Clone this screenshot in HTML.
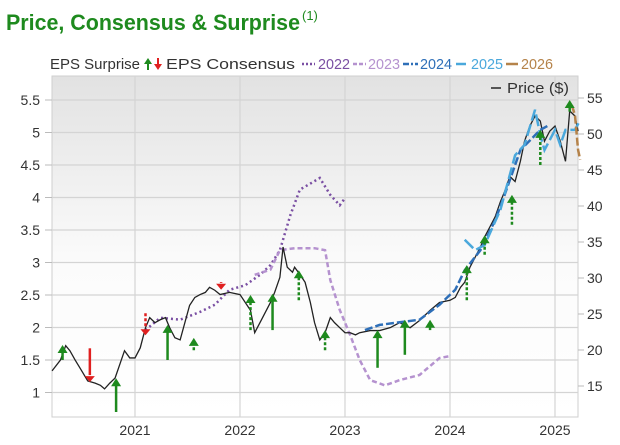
<!DOCTYPE html>
<html><head><meta charset="utf-8"><style>
body{margin:0;background:#fff;font-family:"Liberation Sans",sans-serif;}
#wrap{position:relative;width:620px;height:445px;overflow:hidden;}
</style></head><body>
<div id="wrap">
<svg id="svg" width="620" height="445" xmlns="http://www.w3.org/2000/svg">
<defs><linearGradient id="bg" x1="0" y1="0" x2="0" y2="1"><stop offset="0" stop-color="#e2e2e2"/><stop offset="0.55" stop-color="#fbfbfb"/><stop offset="1" stop-color="#ffffff"/></linearGradient></defs>
<text x="6" y="30" font-size="22" font-weight="bold" fill="#1e8a1e" textLength="294" lengthAdjust="spacingAndGlyphs">Price, Consensus &amp; Surprise</text>
<text x="302" y="20" font-size="13" fill="#1e8a1e">(1)</text>
<g id="legend" font-size="15">
<text x="50" y="69" fill="#333" textLength="90" lengthAdjust="spacingAndGlyphs">EPS Surprise</text>
<g><line x1="148" y1="70" x2="148" y2="63" stroke="#1e8a1e" stroke-width="2"/><polygon points="148,58 144,64 152,64" fill="#1e8a1e"/></g>
<g><line x1="158" y1="58" x2="158" y2="65" stroke="#e02020" stroke-width="2"/><polygon points="158,70 154,64 162,64" fill="#e02020"/></g>
<text x="166" y="69" fill="#333" textLength="129" lengthAdjust="spacingAndGlyphs">EPS Consensus</text>
<line x1="302" y1="64" x2="315" y2="64" stroke="#7a4fa3" stroke-width="2.5" stroke-dasharray="2,2"/>
<text x="318" y="69" fill="#7a4fa3" textLength="32" lengthAdjust="spacingAndGlyphs">2022</text>
<line x1="353" y1="64" x2="366" y2="64" stroke="#b592cf" stroke-width="2.5" stroke-dasharray="4,2"/>
<text x="368" y="69" fill="#b592cf" textLength="32" lengthAdjust="spacingAndGlyphs">2023</text>
<line x1="403" y1="64" x2="418" y2="64" stroke="#2e6fb8" stroke-width="2.5" stroke-dasharray="6,2,2,2"/>
<text x="420" y="69" fill="#2e6fb8" textLength="32" lengthAdjust="spacingAndGlyphs">2024</text>
<line x1="456" y1="64" x2="466" y2="64" stroke="#4aa8dc" stroke-width="2.5"/>
<text x="471" y="69" fill="#4aa8dc" textLength="32" lengthAdjust="spacingAndGlyphs">2025</text>
<line x1="506" y1="64" x2="518" y2="64" stroke="#b5834a" stroke-width="2.5"/>
<text x="521" y="69" fill="#b5834a" textLength="32" lengthAdjust="spacingAndGlyphs">2026</text>
</g>
<rect x="52" y="76" width="526" height="341" fill="url(#bg)" stroke="#cfcfcf"/>
<g id="grid"></g>
<g id="axes" font-size="14" fill="#333"></g>
<line x1="491" y1="88" x2="501" y2="88" stroke="#555" stroke-width="2"/>
<text x="507" y="93" font-size="15" fill="#333" textLength="62" lengthAdjust="spacingAndGlyphs">Price ($)</text>
<g id="series"></g>
</svg>
</div>
<script>
const leftTicks=[1,1.5,2,2.5,3,3.5,4,4.5,5,5.5];
const rightTicks=[15,20,25,30,35,40,45,50,55];
const yearTicks=[2021,2022,2023,2024,2025];
const priceDates=[2020.21,2020.29,2020.34,2020.38,2020.43,2020.48,2020.55,2020.62,2020.67,2020.71,2020.76,2020.81,2020.86,2020.9,2020.95,2021.0,2021.05,2021.1,2021.14,2021.19,2021.24,2021.29,2021.33,2021.38,2021.43,2021.52,2021.57,2021.62,2021.67,2021.71,2021.76,2021.81,2021.9,2022.0,2022.1,2022.14,2022.19,2022.24,2022.29,2022.33,2022.38,2022.41,2022.45,2022.5,2022.52,2022.57,2022.62,2022.67,2022.71,2022.76,2022.81,2022.86,2022.9,2022.95,2023.0,2023.05,2023.1,2023.14,2023.24,2023.33,2023.43,2023.52,2023.62,2023.71,2023.81,2023.9,2024.0,2024.05,2024.1,2024.14,2024.19,2024.24,2024.29,2024.33,2024.38,2024.43,2024.48,2024.52,2024.57,2024.62,2024.67,2024.71,2024.76,2024.81,2024.86,2024.9,2024.95,2025.0,2025.05,2025.1,2025.14,2025.19,2025.22];
const priceValues=[17.1,18.6,20.6,19.9,18.6,17.4,15.7,15.4,15.1,14.6,15.4,16.1,18.2,19.9,18.9,18.9,20.3,23.1,24.5,23.8,24.2,24.5,23.1,21.7,21.4,26.2,27.3,27.7,28.0,28.7,28.3,27.7,28.0,27.7,25.5,22.4,23.8,25.2,26.6,28.0,30.1,34.3,31.5,30.8,31.5,30.5,29.4,26.6,23.8,21.4,22.4,24.5,23.8,23.1,22.4,22.4,22.1,22.4,22.7,22.7,23.1,23.8,23.1,24.1,25.5,26.6,26.9,27.3,28.7,29.4,31.5,32.9,34.3,35.7,37.1,38.5,40.6,42.0,44.1,43.4,46.2,49.0,51.1,52.5,51.8,49.0,50.4,51.1,49.0,46.2,53.2,52.5,50.4];
const c2022Dates=[2021.1,2021.24,2021.43,2021.62,2021.76,2021.9,2022.05,2022.19,2022.29,2022.38,2022.48,2022.57,2022.76,2022.86,2022.95,2023.0];
const c2022Values=[1.96,2.15,2.12,2.24,2.35,2.58,2.65,2.81,2.96,3.19,3.73,4.12,4.30,4.04,3.88,3.99];
const c2023Dates=[2022.14,2022.29,2022.38,2022.52,2022.71,2022.81,2022.86,2022.95,2023.05,2023.14,2023.24,2023.38,2023.52,2023.71,2023.9,2024.0];
const c2023Values=[2.81,2.89,3.19,3.22,3.22,3.19,2.73,2.27,1.88,1.5,1.19,1.11,1.19,1.27,1.53,1.56];
const c2024Dates=[2023.19,2023.33,2023.52,2023.71,2023.9,2024.05,2024.14,2024.29,2024.43,2024.52,2024.67,2024.86,2024.95];
const c2024Values=[1.96,2.04,2.08,2.12,2.35,2.58,2.88,3.19,3.65,4.04,4.73,5.04,5.12];
const c2025Dates=[2024.14,2024.24,2024.33,2024.48,2024.62,2024.71,2024.81,2024.86,2024.9,2025.0,2025.05,2025.1,2025.19,2025.24];
const c2025Values=[3.35,3.19,3.27,3.81,4.65,4.81,5.35,4.96,4.73,5.04,4.81,5.04,5.04,5.19];
const c2026Dates=[2025.16,2025.19,2025.22,2025.24];
const c2026Values=[5.42,5.27,4.73,4.58];
const surpDates=[2020.31,2020.57,2020.82,2021.1,2021.31,2021.56,2021.82,2022.1,2022.31,2022.56,2022.81,2023.31,2023.57,2023.81,2024.16,2024.33,2024.59,2024.86,2025.14];
const surpFrom=[1.5,1.68,0.7,2.22,1.5,1.65,2.7,1.96,1.96,2.42,1.65,1.38,1.58,1.96,2.42,3.12,3.58,4.5,5.32];
const surpTo=[1.73,1.16,1.22,1.88,2.04,1.84,2.58,2.5,2.52,2.88,1.96,1.96,2.12,2.12,2.96,3.42,4.04,5.04,5.5];
const surpDashed=[0,0,0,1,0,1,1,1,0,1,1,0,0,0,1,1,1,1,0];

const X0=52,X1=578,Y0=76,Y1=417;
const x=d=>135+(d-2021)*105;
const yL=v=>100+(5.5-v)*65;
const yR=p=>98+(55-p)*7.2;
const NS="http://www.w3.org/2000/svg";
function mk(tag,attrs,parent){const e=document.createElementNS(NS,tag);for(const k in attrs)e.setAttribute(k,attrs[k]);parent.appendChild(e);return e;}
const grid=document.getElementById('grid'),axes=document.getElementById('axes'),ser=document.getElementById('series');
leftTicks.forEach(t=>{const y=yL(t);
 const l=mk('line',{x1:X0,x2:X1,y1:y,y2:y,stroke:'#d4d4d4','stroke-width':1.2},grid);
 
 
 const tx=mk('text',{x:40,y:y+5,'text-anchor':'end'},axes);tx.textContent=String(t);
 
 
 mk('line',{x1:45,x2:X0,y1:y,y2:y,stroke:'#bbb'},axes);});
rightTicks.forEach(t=>{const y=yR(t);
 mk('line',{x1:X1,x2:X1+6,y1:y,y2:y,stroke:'#bbb'},axes);
 const tx=mk('text',{x:587,y:y+5},axes);tx.textContent=String(t);
 
 });
yearTicks.forEach(t=>{const xx=x(t);
 const l=mk('line',{x1:xx,x2:xx,y1:Y0,y2:Y1,stroke:'#d4d4d4','stroke-width':1.2},grid);
 
 
 const tx=mk('text',{x:xx,y:435,'text-anchor':'middle'},axes);tx.textContent=String(t);
 
 });
function line(ds,vs,yf,style,name){const p=mk('polyline',Object.assign({points:ds.map((d,i)=>x(d)+','+yf(vs[i])).join(' '),fill:'none'},style),ser);
 
 }
line(c2022Dates,c2022Values,yL,{stroke:'#7a4fa3','stroke-width':2.5,'stroke-dasharray':'2,3'},'consensus-2022');
line(c2023Dates,c2023Values,yL,{stroke:'#b592cf','stroke-width':2.5,'stroke-dasharray':'5,3'},'consensus-2023');
line(priceDates,priceValues,yR,{stroke:'#222','stroke-width':1.3},'price-line');
line(c2024Dates,c2024Values,yL,{stroke:'#2e6fb8','stroke-width':2.5,'stroke-dasharray':'8,3'},'consensus-2024');
line(c2025Dates,c2025Values,yL,{stroke:'#4aa8dc','stroke-width':2.5,'stroke-dasharray':'12,4'},'consensus-2025');
line(c2026Dates,c2026Values,yL,{stroke:'#b5834a','stroke-width':2.5,'stroke-dasharray':'8,3'},'consensus-2026');
surpDates.forEach((d,i)=>{const xx=x(d),a=yL(surpFrom[i]),b=yL(surpTo[i]);const up=b<a;const col=up?'#1e8a1e':'#e02020';
 const g=mk('g',{},ser);
 
 
 const h=up?7:-7;
 const s={x1:xx,x2:xx,y1:a,y2:b+h,stroke:col,'stroke-width':2.5};if(surpDashed[i])s['stroke-dasharray']='3,2';
 mk('line',s,g);
 mk('polygon',{points:`${xx},${b} ${xx-5},${b+h+1} ${xx+5},${b+h+1}`,fill:col},g);});
</script>
</body></html>
